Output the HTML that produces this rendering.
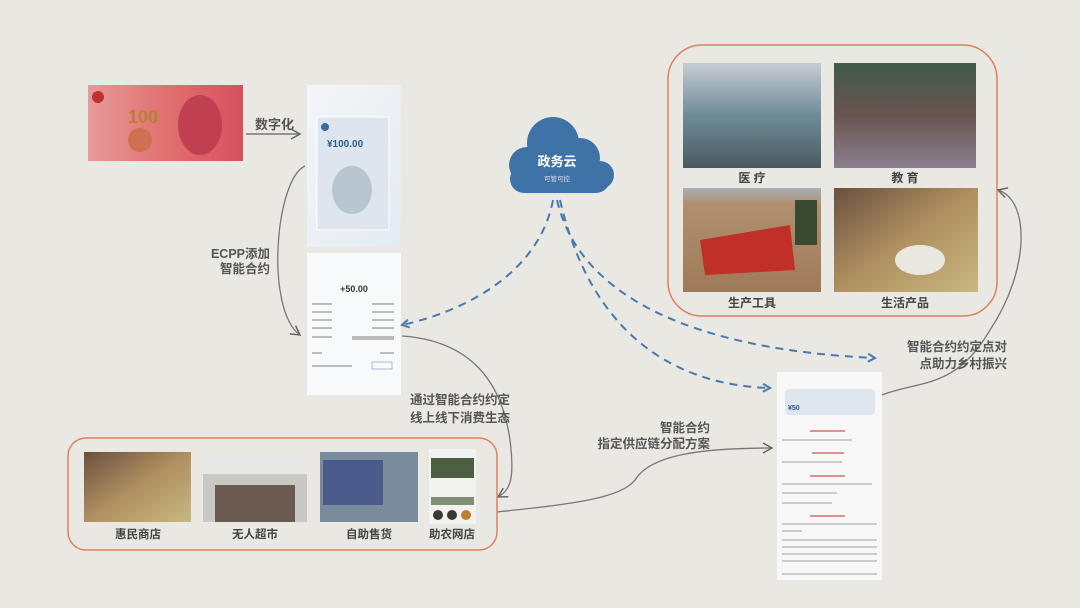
<!DOCTYPE html>
<html><head><meta charset="utf-8"><style>
html,body{margin:0;padding:0;background:#e9e8e2;}
svg{display:block}
text{font-family:"Liberation Sans","Noto Sans CJK SC",sans-serif;}
</style></head><body>
<svg width="1080" height="608" viewBox="0 0 1080 608" xmlns="http://www.w3.org/2000/svg">
<defs>
<linearGradient id="note" x1="0" y1="0" x2="1" y2="0"><stop offset="0" stop-color="#e89a9a"/><stop offset="0.5" stop-color="#e07070"/><stop offset="1" stop-color="#d85060"/></linearGradient>
<linearGradient id="hosp" x1="0" y1="0" x2="0" y2="1"><stop offset="0" stop-color="#c8ccd4"/><stop offset="0.5" stop-color="#6e8c98"/><stop offset="1" stop-color="#4a5a60"/></linearGradient>
<linearGradient id="edu" x1="0" y1="0" x2="0" y2="1"><stop offset="0" stop-color="#3f5a4c"/><stop offset="0.5" stop-color="#6a5450"/><stop offset="1" stop-color="#8a8090"/></linearGradient>
<linearGradient id="farm" x1="0" y1="0" x2="0" y2="1"><stop offset="0" stop-color="#a8b0b4"/><stop offset="0.15" stop-color="#b09070"/><stop offset="1" stop-color="#a07a58"/></linearGradient>
<linearGradient id="shop" x1="0" y1="0" x2="1" y2="1"><stop offset="0" stop-color="#6a5040"/><stop offset="0.5" stop-color="#b09060"/><stop offset="1" stop-color="#c8b880"/></linearGradient>
<linearGradient id="ph" x1="0" y1="0" x2="1" y2="1"><stop offset="0" stop-color="#f4f6f8"/><stop offset="1" stop-color="#e4eaf0"/></linearGradient>
<marker id="ab" markerWidth="10" markerHeight="10" refX="8" refY="5" orient="auto" markerUnits="userSpaceOnUse"><path d="M1,1 L8,5 L1,9" fill="none" stroke="#4a78b0" stroke-width="2"/></marker>
<marker id="ag" markerWidth="12" markerHeight="12" refX="10" refY="6" orient="auto" markerUnits="userSpaceOnUse"><path d="M1,1 L10,6 L1,11" fill="none" stroke="#666" stroke-width="1.5"/></marker>
</defs>

<!-- banknote -->
<rect x="88" y="85" width="155" height="76" fill="url(#note)"/>
<circle cx="98" cy="97" r="6" fill="#c03030"/>
<text x="128" y="123" font-size="18" font-weight="bold" fill="#b88030">100</text>
<circle cx="140" cy="140" r="12" fill="#d07050"/>
<ellipse cx="200" cy="125" rx="22" ry="30" fill="#c04050"/>

<!-- digitize arrow -->
<text x="255" y="129" font-size="13" font-weight="bold" fill="#555">数字化</text>
<line x1="246" y1="134" x2="300" y2="134" stroke="#777" stroke-width="1.5" marker-end="url(#ag)"/>

<!-- phone1 -->
<rect x="307" y="85" width="94" height="162" fill="url(#ph)"/>
<rect x="317" y="117" width="72" height="113" fill="#dde6ee" stroke="#fff"/>
<circle cx="325" cy="127" r="4" fill="#3a6aa0"/>
<text x="327" y="147" font-size="10" font-weight="bold" fill="#2a5a90">¥100.00</text>
<ellipse cx="352" cy="190" rx="20" ry="24" fill="#b8c4d0"/>
<!-- phone2 -->
<rect x="307" y="253" width="94" height="142" fill="#f8f9fa"/>
<text x="354" y="292" font-size="9" font-weight="bold" fill="#333" text-anchor="middle">+50.00</text>
<g fill="#bbb"><rect x="312" y="303" width="20" height="2"/><rect x="372" y="303" width="22" height="2"/><rect x="312" y="311" width="20" height="2"/><rect x="372" y="311" width="22" height="2"/><rect x="312" y="319" width="20" height="2"/><rect x="372" y="319" width="22" height="2"/><rect x="312" y="327" width="20" height="2"/><rect x="372" y="327" width="22" height="2"/><rect x="312" y="336" width="20" height="2"/><rect x="352" y="336" width="42" height="4"/><rect x="312" y="352" width="10" height="2"/><rect x="380" y="352" width="14" height="2"/><rect x="312" y="365" width="40" height="2"/></g>
<rect x="372" y="362" width="20" height="7" fill="none" stroke="#7aa0d0" stroke-width="0.7"/>

<!-- ECPP curve -->
<path d="M305,166 C275,180 265,310 300,335" fill="none" stroke="#777" stroke-width="1.3" marker-end="url(#ag)"/>
<text x="270" y="258" font-size="12.5" font-weight="bold" fill="#555" text-anchor="end">ECPP添加</text>
<text x="270" y="273" font-size="12.5" font-weight="bold" fill="#555" text-anchor="end">智能合约</text>

<!-- cloud -->
<g fill="#3f73a8">
<circle cx="527" cy="165" r="18"/><circle cx="553" cy="143" r="26"/><circle cx="580" cy="158" r="20"/><circle cx="600" cy="175" r="14"/>
<rect x="510" y="165" width="100" height="28" rx="14"/>
</g>
<text x="557" y="166" font-size="13" font-weight="bold" fill="#fff" text-anchor="middle">政务云</text>
<text x="557" y="181" font-size="6.5" fill="#dde" text-anchor="middle">可管可控</text>

<!-- dashed blue arrows -->
<g fill="none" stroke="#4a78b0" stroke-width="2" stroke-dasharray="8,6">
<path d="M553,200 C540,270 470,310 402,325" marker-end="url(#ab)"/>
<path d="M557,200 C580,300 700,350 875,358" marker-end="url(#ab)"/>
<path d="M560,200 C590,330 670,385 770,388" marker-end="url(#ab)"/>
</g>

<!-- top right box -->
<rect x="668" y="45" width="329" height="271" rx="34" fill="none" stroke="#e08060" stroke-width="1.5"/>
<rect x="683" y="63" width="138" height="105" fill="url(#hosp)"/>
<rect x="834" y="63" width="142" height="105" fill="url(#edu)"/>
<rect x="683" y="188" width="138" height="104" fill="url(#farm)"/>
<path d="M700,240 L790,225 L795,270 L705,275 Z" fill="#c03028"/>
<rect x="795" y="200" width="22" height="45" fill="#3a4a30"/>
<rect x="834" y="188" width="144" height="104" fill="url(#shop)"/>
<ellipse cx="920" cy="260" rx="25" ry="15" fill="#e8e8e0"/>
<g font-size="12" font-weight="bold" fill="#444" text-anchor="middle">
<text x="752" y="182">医 疗</text><text x="905" y="182">教 育</text>
<text x="752" y="307">生产工具</text><text x="905" y="307">生活产品</text>
</g>

<!-- right curve to box -->
<path d="M882,395 C920,380 955,390 990,330 C1030,270 1030,200 998,190" fill="none" stroke="#777" stroke-width="1.3" marker-end="url(#ag)"/>
<text x="1007" y="351" font-size="12.5" font-weight="bold" fill="#555" text-anchor="end">智能合约约定点对</text>
<text x="1007" y="368" font-size="12.5" font-weight="bold" fill="#555" text-anchor="end">点助力乡村振兴</text>

<!-- phone3 -->
<rect x="777" y="372" width="105" height="208" fill="#f8f8f9"/>
<rect x="785" y="389" width="90" height="26" rx="4" fill="#dfe7ee"/>
<text x="788" y="410" font-size="7" font-weight="bold" fill="#2a5a90">¥50</text>
<g fill="#e09090"><rect x="810" y="430" width="35" height="2"/><rect x="812" y="452" width="32" height="2"/><rect x="810" y="475" width="35" height="2"/><rect x="810" y="515" width="35" height="2"/></g>
<g fill="#ccc"><rect x="782" y="439" width="70" height="2"/><rect x="782" y="461" width="60" height="2"/><rect x="782" y="483" width="90" height="2"/><rect x="782" y="492" width="55" height="2"/><rect x="782" y="502" width="50" height="2"/><rect x="782" y="523" width="95" height="2"/><rect x="782" y="530" width="20" height="2"/><rect x="782" y="539" width="95" height="2"/><rect x="782" y="546" width="95" height="2"/><rect x="782" y="553" width="95" height="2"/><rect x="782" y="560" width="95" height="2"/><rect x="782" y="573" width="95" height="2"/></g>

<!-- supply chain curve -->
<path d="M497,512 C560,505 620,500 635,480 C650,455 700,448 772,448" fill="none" stroke="#777" stroke-width="1.3" marker-end="url(#ag)"/>
<text x="710" y="432" font-size="12.5" font-weight="bold" fill="#555" text-anchor="end">智能合约</text>
<text x="710" y="448" font-size="12.5" font-weight="bold" fill="#555" text-anchor="end">指定供应链分配方案</text>

<!-- curve from phone2 to bottom box -->
<path d="M402,336 C460,340 500,370 510,440 C515,480 510,490 498,497" fill="none" stroke="#777" stroke-width="1.3" marker-end="url(#ag)"/>
<text x="510" y="404" font-size="12.5" font-weight="bold" fill="#555" text-anchor="end">通过智能合约约定</text>
<text x="510" y="422" font-size="12.5" font-weight="bold" fill="#555" text-anchor="end">线上线下消费生态</text>

<!-- bottom box -->
<rect x="68" y="438" width="429" height="112" rx="18" fill="none" stroke="#e08060" stroke-width="1.5"/>
<rect x="84" y="452" width="107" height="70" fill="url(#shop)"/>
<rect x="203" y="452" width="104" height="70" fill="#c8c8c4"/>
<rect x="203" y="452" width="104" height="22" fill="#e8e8e6"/>
<rect x="215" y="485" width="80" height="37" fill="#6a5a50"/>
<rect x="320" y="452" width="98" height="70" fill="#7a8c9c"/>
<rect x="323" y="460" width="60" height="45" fill="#4a5a8a"/>
<rect x="429" y="449" width="47" height="75" fill="#f2f2f0"/>
<rect x="431" y="458" width="43" height="20" fill="#4a6040"/>
<rect x="431" y="497" width="43" height="8" fill="#809070"/>
<circle cx="438" cy="515" r="5" fill="#3a3a30"/><circle cx="452" cy="515" r="5" fill="#3a3a30"/><circle cx="466" cy="515" r="5" fill="#c08030"/>
<g font-size="11.5" font-weight="bold" fill="#444" text-anchor="middle">
<text x="138" y="538">惠民商店</text><text x="255" y="538">无人超市</text><text x="369" y="538">自助售货</text><text x="452" y="538">助农网店</text>
</g>
</svg>
</body></html>
